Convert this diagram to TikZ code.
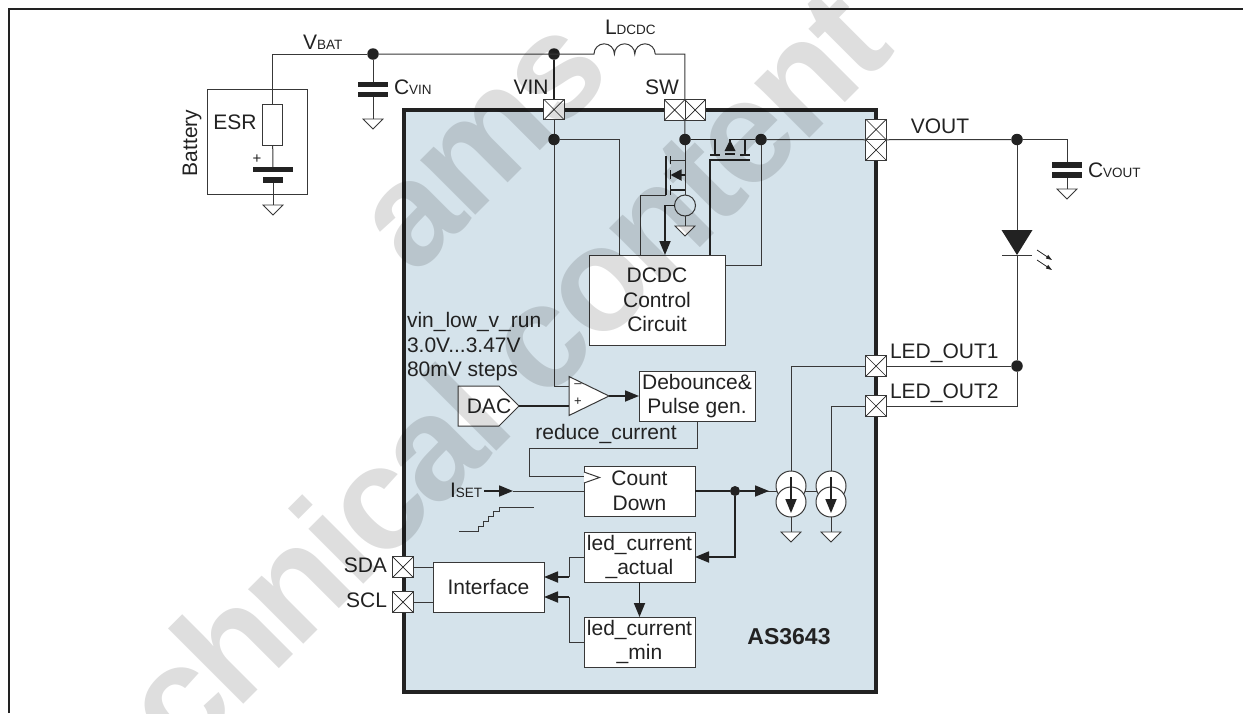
\documentclass[tikz,border=0pt]{standalone}
\usepackage{fontspec}
\setmainfont{Liberation Sans}
\usetikzlibrary{arrows.meta,shapes.geometric,shapes.symbols}
\definecolor{chipblue}{HTML}{D5E3EB}
\definecolor{ink}{HTML}{222222}
\newcommand{\subl}[1]{{\fontsize{13.5}{14}\selectfont #1}}
\tikzset{
  lab/.style={inner sep=0pt, text=ink, font=\fontsize{21}{24.5}\selectfont},
  wire/.style={draw=ink!90, line width=1pt},
  thickwire/.style={draw=ink, line width=1.8pt},
  arr/.style={-{Triangle[length=14pt,width=11pt]}},
  blockbox/.style={lab, draw=ink!90, fill=white, line width=1pt, align=center, anchor=north west},
  padbox/.style={rectangle, draw=ink!90, fill=white, line width=.8pt, minimum size=20.5pt, inner sep=0pt,
    path picture={\draw[line width=.7pt, ink] (path picture bounding box.north west) -- (path picture bounding box.south east)
      (path picture bounding box.north east) -- (path picture bounding box.south west);}},
  dot/.style={circle, fill=ink, minimum size=11.5pt, inner sep=0pt},
  gnd/.style={isosceles triangle, isosceles triangle stretches, shape border rotate=-90, draw=ink!90, fill=white, line width=.8pt,
    inner sep=0pt, minimum width=20pt, minimum height=10pt, anchor=north},
  plate/.style={fill=ink, inner sep=0pt, minimum width=#1, minimum height=5.5pt},
  srcring/.style={circle, draw=ink!90, fill=white, line width=1pt, minimum size=30pt, inner sep=0pt},
  markfont/.style={rotate=45, anchor=base west, inner sep=0pt, font=\fontsize{147}{147}\selectfont\bfseries\addfontfeature{LetterSpace=-3.5}}
}
\begin{document}
\begin{tikzpicture}[x=1pt, y=-1pt, every node/.append style={outer sep=0pt}]
  % \draw[help lines, step=100] (0,0) grid (1243,713);
  \useasboundingbox (0,0) rectangle (1243,713);
  \draw[line width=2pt, ink] (9,713) -- (9,9) -- (1243,9);

  % device outline
  \node at (404,110) [draw=ink, fill=chipblue, line width=4pt, anchor=north west, inner sep=0pt, minimum width=472pt, minimum height=582pt] (chip) {};
  \node at (554,109.5) [padbox] (padvin) {};
  \node at (674.7,110) [padbox] (padswa) {};
  \node at (695.2,110) [padbox] (padswb) {};
  \node at (876,129.5) [padbox] (padvouta) {};
  \node at (876,150) [padbox] (padvoutb) {};
  \node at (876,366) [padbox] (padleda) {};
  \node at (876,406) [padbox] (padledb) {};
  \node at (403,567) [padbox] (padsda) {};
  \node at (403,602) [padbox] (padscl) {};

  \node at (531,87) [lab] (lvin) {VIN};
  \node at (662,87) [lab] (lsw) {SW};
  \node at (940,126) [lab] (lvout) {VOUT};
  \node at (890,353) [lab, anchor=west] (lleda) {LED\_OUT1};
  \node at (890,393) [lab, anchor=west] (lledb) {LED\_OUT2};
  \node at (387,565) [lab, anchor=east] (lsda) {SDA};
  \node at (387,600) [lab, anchor=east] (lscl) {SCL};
  \node at (303,49) [lab, anchor=base west] (lbat) {V\subl{BAT}};
  \node at (394,94) [lab, anchor=base west] (lcvin) {C\subl{VIN}};
  \node at (605,34) [lab, anchor=base west] (ldcdc) {L\subl{DCDC}};
  \node at (1088,177) [lab, anchor=base west] (lcvout) {C\subl{VOUT}};
  \node at (789,637) [lab, font=\fontsize{23}{24}\selectfont\bfseries] (lchip) {AS3643};
  \node at (407,347) [lab, anchor=west, align=left] (lrun) {vin\_low\_v\_run\\3.0V...3.47V\\80mV steps};
  \node at (606,434) [lab] (lreduce) {reduce\_current};
  \node at (450,497) [lab, anchor=base west] (liset) {I\subl{SET}};

  % battery
  \node at (207.5,89) [draw=ink!90, line width=1pt, anchor=north west, inner sep=0pt, minimum width=100pt, minimum height=105pt] (batt) {};
  \node at (192,143) [lab, rotate=90] (lbatt) {Battery};
  \node at (235,122) [lab] (lesr) {ESR};
  \node at (272.7,124.5) [draw=ink!90, fill=white, line width=1pt, inner sep=0pt, minimum width=20pt, minimum height=41pt] (esr) {};
  \node at (273,169.5) [plate=40pt] (cella) {};
  \node at (273,180) [plate=20pt] (cellb) {};
  \node at (257,159) [lab, font=\fontsize{15}{15}\selectfont] (lplus) {+};
  \node at (273,205) [gnd] (gndbat) {};
  \node at (373,54) [dot] (jbat) {};
  \node at (358,84.5) [anchor=west, plate=30pt] (cvina) {};
  \node at (358,94.5) [anchor=west, plate=30pt] (cvinb) {};
  \node at (373,119) [gnd] (gndcvin) {};
  \coordinate (vbatc) at (272.7,54);
  \draw[wire] (jbat) -- (vbatc) -- (esr.north);
  \draw[wire] (esr.south) -- (cella);
  \draw[wire] (cellb) -- (gndbat.north);
  \draw[wire] (jbat) -- (cvina);
  \draw[wire] (cvinb) -- (gndcvin.north);

  % inductor
  \node at (554,54) [dot] (jvinout) {};
  \coordinate (coila) at (594,54);
  \coordinate (coilb) at (655,54);
  \draw[wire] (jbat) -- (coila) arc[start angle=180, end angle=360, radius=10.2] arc[start angle=180, end angle=360, radius=10.2] arc[start angle=180, end angle=360, radius=10.2] -- (coilb) -| (padswa.north east);
  \draw[thickwire] (jvinout) -- (padvin.north);

  % control blocks
  \node at (589,255) [blockbox, minimum width=136pt, minimum height=90pt] (dcdc) {DCDC\\Control\\Circuit};
  \node at (639,371) [blockbox, minimum width=116pt, minimum height=50pt] (deb) {Debounce\&\\Pulse gen.};
  \node at (584,466) [blockbox, minimum width=111pt, minimum height=50pt] (count) {Count\\Down};
  \node at (584,532) [blockbox, minimum width=111pt, minimum height=50pt] (actual) {led\_current\\\_actual};
  \node at (584,617) [blockbox, minimum width=111pt, minimum height=50pt] (minc) {led\_current\\\_min};
  \node at (433,562) [blockbox, minimum width=111pt, minimum height=50pt] (iface) {Interface};
  \node at (458,406) [draw=ink!90, fill=white, line width=1pt, inner sep=0pt, signal, signal to=east, signal pointer angle=90, anchor=west, minimum width=61pt, minimum height=40pt] (dac) {};
  \node at (489,406) [lab] (ldac) {DAC};
  \node at (569,396) [isosceles triangle, isosceles triangle stretches, draw=ink!90, fill=white, line width=1pt, inner sep=0pt, anchor=west, minimum width=39pt, minimum height=40pt] (cmp) {};
  \node at (578,386) [lab, font=\fontsize{13}{13}\selectfont] (lminus) {--};
  \node at (578,402) [lab, font=\fontsize{13}{13}\selectfont] (lplusb) {+};

  % switches
  \node at (554,139.5) [dot] (jvin) {};
  \node at (685,139.5) [dot] (jsw) {};
  \node at (761,139.5) [dot] (jout) {};
  \node at (1017,139.5) [dot] (jvout) {};
  \node at (1017,366) [dot] (jled) {};
  \node at (735,491) [dot, minimum size=10pt] (jcnt) {};
  \draw[wire] (padvin.south) -- (jvin);
  \draw[wire] (padswa.south east) -- (jsw);
  \draw[wire] (jout) -- (padvoutb.north west);
  \draw[wire] (jvin) -| ([xshift=30pt]dcdc.north west);
  \coordinate (cmpm) at ([yshift=10pt]cmp.west);
  \coordinate (cmpp) at ([yshift=-10pt]cmp.west);
  \draw[wire] (jvin) |- (cmpm);
  \draw[thickwire] (dac.east) -- (cmpp);
  \draw[thickwire, arr] (cmp.east) -- (deb.west |- cmp.east);

  % low side switch
  \coordinate (ndrain) at (670,160);
  \coordinate (nbody) at (685,175);
  \coordinate (nsource) at (670,190);
  \node at (685,205.5) [circle, draw=ink!90, line width=1pt, minimum size=21pt, inner sep=0pt] (isrc) {};
  \node at (685,226) [gnd] (gndsw) {};
  \draw[wire] (jsw) |- (ndrain);
  \draw[wire] (nbody |- ndrain) -- (isrc.north);
  \draw[thickwire] (nsource) -- (nsource -| nbody);
  \draw[thickwire] (665.7,156) -- (665.7,195);
  \foreach \y/\z in {156/164, 170/179, 185/195} \draw[thickwire] (670.5,\y) -- (670.5,\z);
  \draw[thickwire, arr, -{Triangle[length=11pt,width=11pt]}] (nbody) -- (670.5,175);
  \draw[wire] (665.7,195) -| ([xshift=51pt]dcdc.north west);
  \draw[thickwire, arr] (isrc.west) -| ([xshift=76pt]dcdc.north west);
  \draw[wire] (isrc.south) -- (gndsw.north);

  % high side switch
  \draw[thickwire] (jsw) -| (715,155);
  \draw[thickwire] (710,155) -- (720,155);
  \draw[thickwire] (740,155) -- (750,155);
  \draw[thickwire] (745,155) -- (745,139.5);
  \draw[thickwire] (725,154) -- (735,154);
  \draw[thickwire] (jout) -| (730,150);
  \node at (730,140) [isosceles triangle, isosceles triangle stretches, shape border rotate=90, fill=ink, inner sep=0pt, minimum width=11pt, minimum height=11pt, anchor=north] (pbody) {};
  \draw[thickwire] (750,160) -| ([xshift=121pt]dcdc.north west);
  \draw[wire] (jout) |- ([yshift=-10pt]dcdc.north east);

  % output side
  \draw[wire] (padvoutb.north east) -- (jvout);
  \coordinate (cvoutc) at (1067,139.5);
  \node at (1067,165) [plate=30pt] (cvouta) {};
  \node at (1067,175) [plate=30pt] (cvoutb) {};
  \node at (1067,189) [gnd] (gndcvout) {};
  \draw[wire] (jvout) -- (cvoutc) -- (cvouta);
  \draw[wire] (cvoutb) -- (gndcvout.north);
  \node at (1017,230) [isosceles triangle, isosceles triangle stretches, shape border rotate=-90, fill=ink, inner sep=0pt, minimum width=31pt, minimum height=25pt, anchor=north] (led) {};
  \coordinate (ledbar) at (1017,255);
  \draw[wire] (jvout) -- (led.north);
  \draw[wire] (ledbar) -- (jled);
  \draw[wire] (1002,255) -- (1032,255);
  \foreach \y in {250, 260} \draw[line width=.8pt, ink, -{Triangle[length=6pt,width=4pt]}] (1037,\y) -- (1052,\y+10);
  \draw[wire] (padleda.east) -- (jled);
  \draw[wire] (padledb.east) -| (jled);

  % current sinks
  \coordinate (cslinka) at (763,491);
  \coordinate (cslinkb) at (776.8,491);
  \coordinate (cslinkc) at (816.8,491);
  \draw[wire] (cslinka) -- (cslinkb);
  \draw[wire] (cslinkb) -- (cslinkc);
  \foreach \n/\x in {a/791, b/831} {
    \node at (\x,486) [srcring] (cs\n u) {};
    \node at (\x,502) [srcring] (cs\n d) {};
    \node at (\x,532) [gnd] (gndcs\n) {};
    \draw[thickwire, arr] ([yshift=-6pt]cs\n u.north) -- ([yshift=-11pt]cs\n d.center);
    \draw[wire] (cs\n d.south) -- (gndcs\n.north);
  }
  \draw[wire] (padleda.west) -| (csau.north);
  \draw[wire] (padledb.west) -| (csbu.north);
  \draw[thickwire] (count.east) -- (jcnt);
  \draw[thickwire, arr] (jcnt) -- (769,491);
  \draw[thickwire, arr] (jcnt) |- (actual.east);

  % counter and register paths
  \coordinate (clkup) at (697,448);
  \coordinate (clkleft) at (529,448);
  \coordinate (clkin) at (584,476);
  \draw[wire] (deb.south -| clkup) -- (clkup) -- (clkleft) |- (clkin);
  \draw[wire, fill=white] (584,472) -- (599.5,477.5) -- (584,483);
  \coordinate (isettip) at (513,491);
  \draw[thickwire, arr] (liset.east |- isettip) ++(2,0) -- (isettip);
  \draw[wire] (isettip) -- (count.west);
  \draw[wire] (459,531) -- (478,531) -- (478,526) -- (483,526) -- (483,521) -- (488,521) -- (488,516) -- (493,516) -- (493,511) -- (499,511) -- (499,507) -- (534,507);
  \draw[thickwire, arr] (actual.south) -- (minc.north);
  \coordinate (ifa) at (569,577);
  \coordinate (ifb) at (569,597);
  \draw[wire] (actual.west) -| (ifa);
  \draw[wire] (minc.west) -| (ifb);
  \draw[thickwire, arr] (ifa) -- (iface.east |- ifa);
  \draw[thickwire, arr] (ifb) -- (iface.east |- ifb);
  \draw[wire] (padsda.east) -- (iface.west |- padsda.east);
  \draw[wire] (padscl.east) -- (iface.west |- padscl.east);

  % watermark
  \begin{scope}[opacity=.13]
    \node at (76,872) [markfont] (markb) {Technical content};
    \node at (414,277) [markfont] (marka) {ams};
  \end{scope}
\end{tikzpicture}
\end{document}
